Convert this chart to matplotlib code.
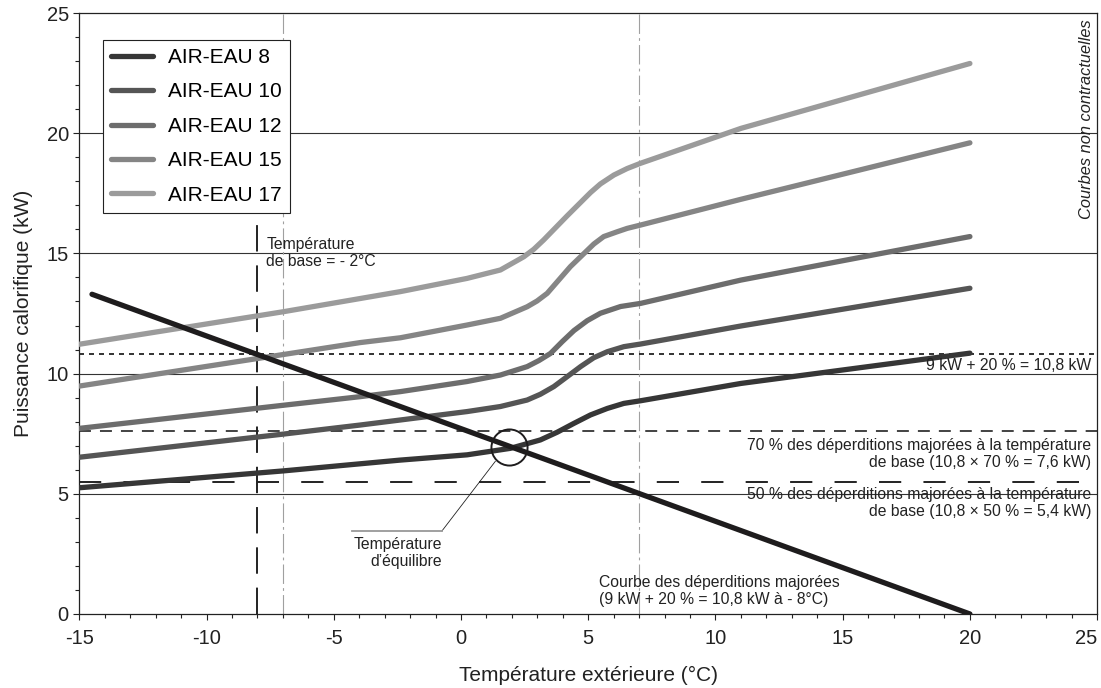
import matplotlib
matplotlib.use("Agg")
import matplotlib.pyplot as plt
from matplotlib.ticker import MultipleLocator

plt.rcParams['font.family'] = ['Liberation Sans', 'DejaVu Sans']
plt.rcParams['lines.scale_dashes'] = False
plt.rcParams['axes.unicode_minus'] = False

# courbes PAC
x_8 = [-15, -7, -2.4, 0.24, 1.94, 3.12, 3.78, 4.44, 5.09, 5.75, 6.4, 7.06, 11.0, 20]
y_8 = [5.25, 5.95, 6.4, 6.62, 6.89, 7.24, 7.56, 7.93, 8.28, 8.55, 8.76, 8.87, 9.59, 10.85]

x_10 = [-15, -7, -3.96, -2.38, 0.24, 1.55, 2.6, 3.12, 3.65, 4.17, 4.7, 5.22, 5.75, 6.4, 7.06, 11.0, 20]
y_10 = [6.52, 7.48, 7.86, 8.07, 8.42, 8.63, 8.9, 9.14, 9.46, 9.87, 10.29, 10.66, 10.91, 11.12, 11.23, 11.98, 13.55]

x_12 = [-15, -7, -3.96, -2.38, 0.24, 1.55, 2.6, 3.06, 3.52, 3.98, 4.44, 4.96, 5.48, 6.27, 7.06, 11.0, 20]
y_12 = [7.72, 8.68, 9.04, 9.25, 9.67, 9.94, 10.29, 10.54, 10.84, 11.33, 11.79, 12.2, 12.51, 12.79, 12.92, 13.89, 15.7]

x_15 = [-15, -7, -3.96, -2.38, 0.24, 1.55, 2.6, 2.99, 3.39, 4.3, 5.22, 5.61, 6.14, 6.53, 7.06, 11.0, 20]
y_15 = [9.48, 10.79, 11.29, 11.49, 12.02, 12.3, 12.78, 13.02, 13.34, 14.45, 15.39, 15.7, 15.9, 16.04, 16.18, 17.25, 19.6]

x_17 = [-15, -7, -2.38, 0.24, 1.55, 2.47, 2.86, 3.25, 4.17, 5.09, 5.48, 6.01, 6.53, 7.06, 11.0, 20]
y_17 = [11.22, 12.57, 13.41, 13.96, 14.31, 14.86, 15.17, 15.56, 16.56, 17.53, 17.89, 18.26, 18.53, 18.75, 20.2, 22.9]

series = [("AIR-EAU 8", x_8, y_8, '#363636'),
          ("AIR-EAU 10", x_10, y_10, '#555555'),
          ("AIR-EAU 12", x_12, y_12, '#6d6d6d'),
          ("AIR-EAU 15", x_15, y_15, '#858585'),
          ("AIR-EAU 17", x_17, y_17, '#9b9b9b')]

# courbe des deperditions majorees
x_loss = [-14.5, 20]
y_loss = [13.3, 0]

t_base = -8
t_base_top = 16.4
t_grey = [-7, 7]
p_max = 10.8
p_70 = 7.6
p_50 = 5.5
eq_x, eq_y = 1.9, 6.95

fig = plt.figure(figsize=(11.01, 6.88), dpi=100)
ax = fig.add_axes([0.072, 0.1076, 0.9245, 0.8735])

ax.set_xlim(-15, 25)
ax.set_ylim(0, 25)

for yg in [5, 10, 15, 20]:
    ax.axhline(yg, color='#333333', lw=0.8, zorder=1)
for xg in t_grey:
    ax.axvline(xg, color='#a0a0a0', lw=0.8, ls=(0, (14, 3, 2, 3)), zorder=1)
ax.vlines(t_base, 0, t_base_top, color='#222222', lw=1.4, ls=(0, (19, 10)), zorder=1)

ax.axhline(p_max, color='#111111', lw=1.2, ls=(0, (3.6, 3.6)), zorder=2)
ax.axhline(p_70, color='#222222', lw=1.2, ls=(0, (8.6, 6.5)), zorder=2)
ax.axhline(p_50, color='#222222', lw=1.4, ls=(0, (16, 16)), zorder=2)

for name, xs, ys, c in series:
    ax.plot(xs, ys, color=c, lw=3.8, solid_capstyle='round', solid_joinstyle='round',
            label=name, zorder=3)

ax.plot(x_loss, y_loss, color='#1e1c1d', lw=3.8, solid_capstyle='round', zorder=4)

ax.plot([eq_x], [eq_y], marker='o', ms=26, mfc='none', mec='#1e1c1d', mew=1.4, zorder=5)
ax.plot([eq_x - 0.55, -0.75], [eq_y - 0.6, 3.45], color='#222222', lw=0.6, zorder=5)
ax.plot([-0.75, -4.3], [3.45, 3.45], color='#999999', lw=1.3, zorder=5)

fs = 11.3
ax.text(-0.75, 2.55, "Température\nd\u2019équilibre", fontsize=fs, ha='right', va='center',
        multialignment='right', color='#222222', linespacing=1.15)
ax.text(-7.65, 15.02, "Température\nde base = - 2°C", fontsize=fs, ha='left', va='center',
        color='#222222', linespacing=1.15)
ax.text(24.76, 10.35, "9 kW + 20 % = 10,8 kW", fontsize=fs, ha='right', va='center', color='#222222')
ax.text(24.76, 6.66, "70 % des déperditions majorées à la température\nde base (10,8 × 70 % = 7,6 kW)",
        fontsize=fs, ha='right', va='center', multialignment='right', color='#222222', linespacing=1.15)
ax.text(24.76, 4.62, "50 % des déperditions majorées à la température\nde base (10,8 × 50 % = 5,4 kW)",
        fontsize=fs, ha='right', va='center', multialignment='right', color='#222222', linespacing=1.15)
ax.text(5.44, 0.96, "Courbe des déperditions majorées\n(9 kW + 20 % = 10,8 kW à - 8°C)",
        fontsize=fs, ha='left', va='center', color='#222222', linespacing=1.15)
ax.text(24.6, 20.6, "Courbes non contractuelles", fontsize=11.8, style='italic', rotation=90,
        ha='center', va='center', color='#222222')

x_ticks = [-15, -10, -5, 0, 5, 10, 15, 20, 25]
ax.set_xticks(x_ticks)
ax.set_xticklabels([str(t) for t in x_ticks])
ax.xaxis.set_minor_locator(MultipleLocator(1))
ax.yaxis.set_major_locator(MultipleLocator(5))
ax.yaxis.set_minor_locator(MultipleLocator(1))
ax.tick_params(which='both', direction='out', width=0.8, color='#222222', labelsize=14.5, labelcolor='#222222')
ax.tick_params(which='major', length=4)
ax.tick_params(which='minor', length=3)
ax.tick_params(axis='x', which='major', pad=7)
ax.get_xticklabels()[-1].set_horizontalalignment('right')
for s in ax.spines.values():
    s.set_linewidth(0.9)
    s.set_color('#222222')

ax.set_xlabel("Température extérieure (°C)", fontsize=15, color='#222222', labelpad=13)
ax.set_ylabel("Puissance calorifique (kW)", fontsize=15, color='#222222', labelpad=10)

leg = ax.legend(loc='upper left', bbox_to_anchor=(0.023, 0.955), borderaxespad=0, fontsize=15,
                handlelength=2.05, handletextpad=0.7, labelspacing=0.74, borderpad=0.38,
                fancybox=False, framealpha=1, edgecolor='#222222')
leg.get_frame().set_linewidth(0.8)
leg.set_zorder(6)

fig.savefig("out.png", dpi=100)
